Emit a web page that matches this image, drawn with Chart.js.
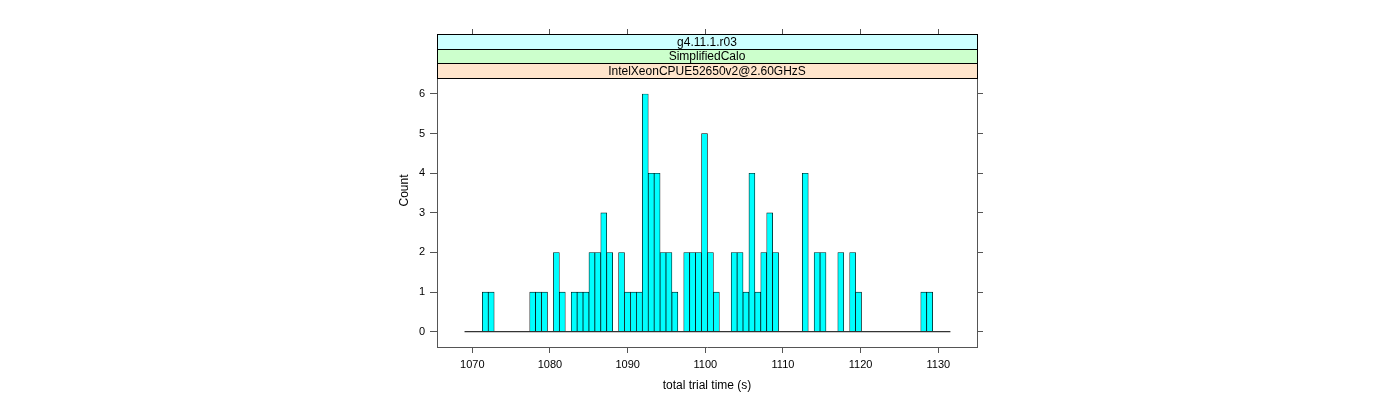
<!DOCTYPE html>
<html>
<head>
<meta charset="utf-8">
<title>total trial time histogram</title>
<script src="https://cdn.jsdelivr.net/npm/chart.js@4.4.1/dist/chart.umd.min.js"></script>
<style>
  html, body { margin: 0; padding: 0; background: #fff; }
  #histChart { display: block; }
</style>
</head>
<body>
<canvas id="histChart" width="1400" height="400"></canvas>
<script>
// histogram breaks (seconds)
const binStart = 1069.0;
const binWidth = 0.7629;

// counts per bin, left to right
const binCounts = [
  0, 0, 0,
  1, 1, 0, 0, 0, 0, 0, 0, 1, 1, 1, 0, 2, 1, 0, 1, 1, 1,
  2, 2, 3, 2, 0, 2, 1, 1, 1, 6, 4, 4, 2, 2, 1, 0,
  2, 2, 2, 5, 2, 1, 0, 0, 2, 2, 1, 4, 1, 2, 3, 2,
  0, 0, 0, 0, 4, 0, 2, 2, 0, 0, 2, 0, 2, 1,
  0, 0, 0, 0, 0, 0, 0, 0, 0, 0, 1, 1,
  0, 0, 0
];

const xTicks = [1070, 1080, 1090, 1100, 1110, 1120, 1130];
const yTicks = [0, 1, 2, 3, 4, 5, 6];

// strip labels, top to bottom
const stripLabels = ['g4.11.1.r03', 'SimplifiedCalo', 'IntelXeonCPUE52650v2@2.60GHzS'];
const stripColors = ['#ccffff', '#ccffcc', '#ffe5cc'];

const xTitle = 'total trial time (s)';
const yTitle = 'Count';

const binEnd = binStart + binCounts.length * binWidth;
const barData = binCounts.map((c, i) => ({ x: binStart + (i + 0.5) * binWidth, y: c }));

const axisColor = '#555';
const fontFamily = '"Liberation Sans", Arial, Helvetica, sans-serif';

Chart.defaults.font.family = fontFamily;
Chart.defaults.color = '#000';

const stripPlugin = {
  id: 'strips',
  afterDatasetsDraw(chart) {
    const { ctx, chartArea } = chart;
    const h = 14.7;
    const left = Math.round(chartArea.left) + 0.5;
    const w = Math.round(chartArea.right) - Math.round(chartArea.left);
    ctx.save();
    stripLabels.forEach((label, i) => {
      const top = Math.round(chartArea.top + i * h) + 0.5;
      const bottom = Math.round(chartArea.top + (i + 1) * h) + 0.5;
      ctx.fillStyle = stripColors[i];
      ctx.fillRect(left, top, w, bottom - top);
      ctx.strokeStyle = '#000';
      ctx.lineWidth = 1;
      ctx.strokeRect(left, top, w, bottom - top);
      ctx.fillStyle = '#000';
      ctx.font = '12px ' + fontFamily;
      ctx.textAlign = 'center';
      ctx.textBaseline = 'middle';
      ctx.fillText(label, (chartArea.left + chartArea.right) / 2, (top + bottom) / 2 + 0.5);
    });
    ctx.restore();
  }
};

const fixedTicks = (values) => (scale) => {
  scale.ticks = values.map(v => ({ value: v }));
};
const plainLabel = (v) => String(v);

new Chart(document.getElementById('histChart'), {
  type: 'bar',
  data: {
    datasets: [
      {
        type: 'line',
        data: [{ x: binStart, y: 0 }, { x: binEnd, y: 0 }],
        borderColor: '#000',
        borderWidth: 1,
        pointRadius: 0,
        order: 0,
      },
      {
        data: barData,
        backgroundColor: '#00ffff',
        borderColor: '#000',
        borderWidth: 0.7,
        borderSkipped: 'start',
        barPercentage: 1,
        categoryPercentage: 1,
        order: 1,
      },
    ],
  },
  options: {
    responsive: false,
    animation: false,
    events: [],
    layout: {
      padding: { left: 390, right: 416, top: 28, bottom: 0 },
    },
    plugins: {
      legend: { display: false },
      tooltip: { enabled: false },
    },
    scales: {
      x: {
        type: 'linear',
        position: 'bottom',
        offset: false,
        min: 1065.455,
        max: 1134.98,
        afterBuildTicks: fixedTicks(xTicks),
        afterFit: (s) => { s.height = 53; },
        grid: { offset: false, drawOnChartArea: false, tickLength: 6, color: axisColor },
        border: { display: true, color: axisColor },
        ticks: { font: { size: 11 }, padding: 5, maxRotation: 0, color: '#000', callback: plainLabel },
        title: { display: true, text: xTitle, font: { size: 12 }, padding: { top: 0, bottom: 7 } },
      },
      x2: {
        type: 'linear',
        position: 'top',
        offset: false,
        min: 1065.455,
        max: 1134.98,
        afterBuildTicks: fixedTicks(xTicks),
        afterFit: (s) => { s.height = 6; },
        grid: { offset: false, drawOnChartArea: false, tickLength: 5, color: axisColor },
        border: { display: true, color: axisColor },
        ticks: { display: false },
      },
      y: {
        type: 'linear',
        position: 'left',
        min: -0.386,
        max: 7.514,
        afterBuildTicks: fixedTicks(yTicks),
        afterFit: (s) => { s.width = 47; },
        grid: { drawOnChartArea: false, tickLength: 7, color: axisColor },
        border: { display: true, color: axisColor },
        ticks: { font: { size: 11 }, padding: 5, color: '#000', callback: plainLabel },
        title: { display: true, text: yTitle, font: { size: 12 }, padding: { top: 7, bottom: 0 } },
      },
      y2: {
        type: 'linear',
        position: 'right',
        min: -0.386,
        max: 7.514,
        afterBuildTicks: fixedTicks(yTicks),
        afterFit: (s) => { s.width = 7; },
        grid: { drawOnChartArea: false, tickLength: 6, color: axisColor },
        border: { display: true, color: axisColor },
        ticks: { display: false },
      },
    },
  },
  plugins: [stripPlugin],
});
</script>
</body>
</html>
